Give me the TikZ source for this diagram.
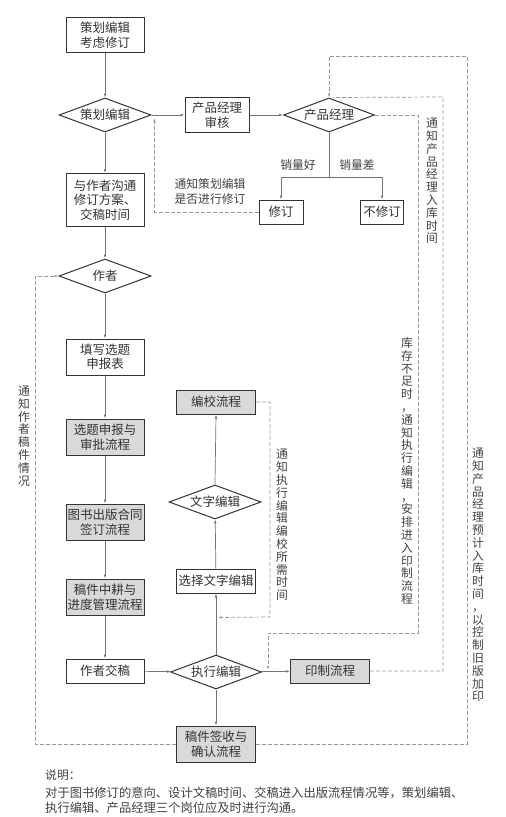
\documentclass[tikz,border=0pt]{standalone}
\usepackage{fontspec}
\setmainfont{Noto Sans CJK SC}
\usetikzlibrary{positioning,calc,shapes.geometric,arrows.meta}

\makeatletter
\newcommand\vlab[1]{\vbox{\baselineskip=12.8pt\lineskiplimit=-20pt\@tfor\ch:=#1\do{\hbox to 1em{\hss\ch\hss}}}}
\makeatother

\tikzset{
  box/.style={draw=black!80, line width=1pt, fill=white, minimum width=78pt, minimum height=24pt,
    inner sep=1pt, align=center, text=black!80, font=\fontsize{12.5}{14.5}\selectfont},
  graybox/.style={box, fill=black!15},
  decision/.style={diamond, aspect=2.7, draw=black!80, line width=1pt, fill=white, minimum width=92pt,
    minimum height=34pt, inner sep=0pt, text=black!80, font=\fontsize{12.5}{14.5}\selectfont},
  flow/.style={draw=black!55, line width=0.7pt, -{Latex[length=4pt,width=2.6pt]}},
  note/.style={draw=black!40, dash pattern=on 4pt off 2pt, line width=0.7pt},
  notearrow/.style={note, -{Latex[length=4pt,width=2.6pt]}},
  lab/.style={inner sep=0pt, text=black!75, font=\fontsize{11.8}{15}\selectfont}
}

\begin{document}
\begin{tikzpicture}[x=1pt, y=-1pt]
  \useasboundingbox (0,0) rectangle (506,817);

  \node[box, minimum height=35pt] (kaolv) at (105,35) {策划编辑\\考虑修订};
  \node[decision] (chbj) at (105,115) {策划编辑};
  \node[box, minimum width=64pt, minimum height=35pt] (shenhe) at (217,115) {产品经理\\审核};
  \node[decision, minimum width=91pt] (cpjl) at (329,115) {产品经理};
  \node[box, minimum width=44pt] (xiuding) at (281,212) {修订};
  \node[box, minimum width=43pt] (buxiu) at (382,212) {不修订};
  \node[box, minimum height=53pt] (goutong) at (105,200) {与作者沟通\\修订方案、\\交稿时间};
  \node[decision] (zuozhe) at (105,276) {作者};
  \node[box, minimum height=36pt] (tianxie) at (105,357) {填写选题\\申报表};
  \node[graybox, minimum height=36pt] (shenpi) at (105,437) {选题申报与\\审批流程};
  \node[graybox, minimum height=36pt] (hetong) at (105,522) {图书出版合同\\签订流程};
  \node[graybox, minimum height=36pt] (jindu) at (105,597) {稿件中耕与\\进度管理流程};
  \node[box] (jiaogao) at (105,671) {作者交稿};
  \node[decision, minimum width=91pt] (zxbj) at (216,672) {执行编辑};
  \node[graybox, minimum width=79pt] (yinzhi) at (330,671) {印制流程};
  \node[graybox, minimum width=79pt, minimum height=36pt] (qianshou) at (216,744) {稿件签收与\\确认流程};
  \node[box, minimum width=79pt] (xuanze) at (216,581) {选择文字编辑};
  \node[decision] (wzbj) at (215,502) {文字编辑};
  \node[graybox, minimum width=79pt] (jiaoxiao) at (216,402) {编校流程};

  \draw[flow] (kaolv) -- (chbj);
  \draw[flow] (chbj) -- (shenhe);
  \draw[flow] (shenhe) -- (cpjl);
  \draw[flow] (cpjl.south) -- ++(0,45) -| (xiuding.north);
  \draw[flow] ($(cpjl.south)+(0,45)$) -| (buxiu.north);
  \draw[flow] (chbj) -- (goutong);
  \draw[flow] (goutong) -- (zuozhe);
  \draw[flow] (zuozhe) -- (tianxie);
  \draw[flow] (tianxie) -- (shenpi);
  \draw[flow] (shenpi) -- (hetong);
  \draw[flow] (hetong) -- (jindu);
  \draw[flow] (jindu) -- (jiaogao);
  \draw[flow] (jiaogao) -- (zxbj);
  \draw[flow] (zxbj.north) -- (xuanze.south);
  \draw[flow] (xuanze) -- (wzbj);
  \draw[flow] (wzbj.north) -- (jiaoxiao.south);
  \draw[flow] (zxbj) -- (yinzhi);
  \draw[flow] (zxbj.south) -- (qianshou.north);

  \node[lab] (haolab) at (298,165) {销量好};
  \node[lab] (chalab) at (357,165) {销量差};

  \draw[notearrow] (xiuding.west) -| ($(chbj.east)+(3,3)$);
  \node[lab, align=left] (tongzhi1) at (210,191) {通知策划编辑\\是否进行修订};

  \draw[notearrow] (cpjl.east) -| (418,633) -| ($(zxbj.east)+(6,-2)$);
  \node[lab] (tongzhi2) at (407,471) {\vlab{库存不足时，通知执行编辑，安排进入印制流程}};

  \draw[note] (yinzhi.east) -| (443,97) -- ($(cpjl.north)+(4,0)$);
  \node[lab] (tongzhi3) at (432,181) {\vlab{通知产品经理入库时间}};

  \draw[notearrow] (qianshou.east) -| (467,56) -| (cpjl.north);
  \node[lab] (tongzhi4) at (478,575) {\vlab{通知产品经理预计入库时间，以控制旧版加印}};

  \draw[notearrow] (jiaoxiao.east) -| (270,617) -- ($(xuanze.south)+(2,24)$);
  \node[lab] (tongzhi5) at (282,525) {\vlab{通知执行编辑编校所需时间}};

  \draw[notearrow] (qianshou.west) -| (35,276) -- (zuozhe.west);
  \node[lab] (tongzhi6) at (24,436) {\vlab{通知作者稿件情况}};

  \node[lab, anchor=west] (shuoming) at (45,775) {说明：};
  \node[lab, anchor=north west, align=left, font=\fontsize{12.3}{15}\selectfont] (shuomingtext) at (45,787)
    {对于图书修订的意向、设计文稿时间、交稿进入出版流程情况等，策划编辑、\\执行编辑、产品经理三个岗位应及时进行沟通。};
\end{tikzpicture}
\end{document}
